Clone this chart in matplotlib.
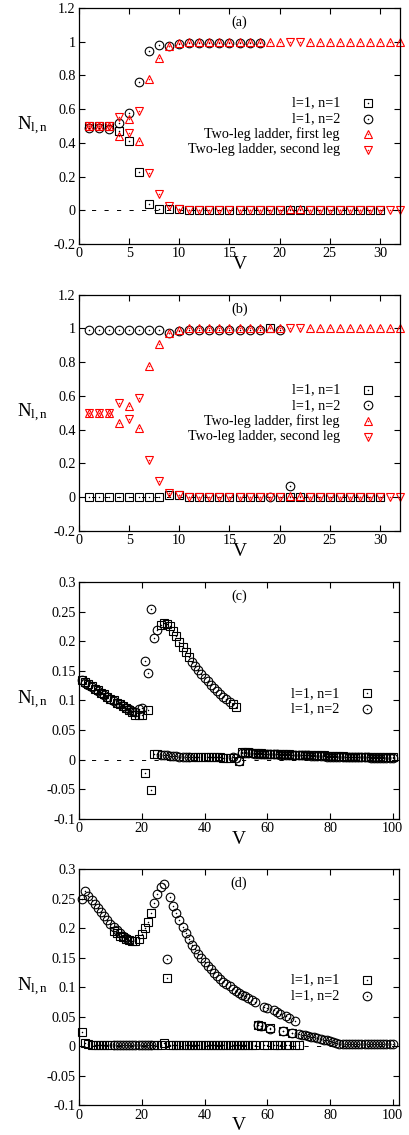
"""Four stacked panels: occupations N_{l,n} against V, gnuplot-like styling."""
import numpy as np
import matplotlib
matplotlib.use("Agg")
import matplotlib.pyplot as plt

plt.rcParams["font.family"] = ["Liberation Serif", "DejaVu Serif"]
plt.rcParams["mathtext.fontset"] = "custom"
plt.rcParams["mathtext.rm"] = "Liberation Serif"
plt.rcParams["mathtext.it"] = "Liberation Serif:italic"
plt.rcParams["lines.scale_dashes"] = False

# ---- panel (a) ----
a_n1 = [0.50, 0.50, 0.50, 0.47, 0.41, 0.23, 0.04, 0.005, 0.01, 0.01,
        0.0, 0.0, 0.0, 0.0, 0.0, 0.0, 0.0, 0.0, 0.0, 0.0,
        0.0, 0.0, 0.0, 0.0, 0.0, 0.0, 0.0, 0.0, 0.0, 0.0]
a_n2 = [0.49, 0.49, 0.48, 0.52, 0.575, 0.76, 0.945, 0.98, 0.975, 0.985,
        0.99, 0.99, 0.99, 0.99, 0.99, 0.99, 0.99, 0.99]
ladder_first = [0.50, 0.50, 0.50, 0.44, 0.54, 0.41, 0.78, 0.905, 0.975, 0.99,
                1.0, 1.0, 1.0, 1.0, 1.0, 1.0, 1.0, 1.0, 1.0, 1.0,
                0.005, 0.005, 1.0, 1.0, 1.0, 1.0, 1.0, 1.0, 1.0, 1.0,
                1.0, 1.0]
ladder_second = [0.50, 0.50, 0.50, 0.555, 0.46, 0.59, 0.22, 0.095, 0.025, 0.01,
                 0.0, 0.0, 0.0, 0.0, 0.0, 0.0, 0.0, 0.0, 0.0, 0.0,
                 1.0, 1.0, 0.0, 0.0, 0.0, 0.0, 0.0, 0.0, 0.0, 0.0,
                 0.0, 0.0]

# ---- panel (b) ----
b_n1 = [0.0, 0.0, 0.0, 0.0, 0.0, 0.0, 0.0, 0.0, 0.01, 0.01,
        0.0, 0.0, 0.0, 0.0, 0.0, 0.0, 0.0, 0.0, 1.0, 0.0,
        0.0, 0.0, 0.0, 0.0, 0.0, 0.0, 0.0, 0.0, 0.0, 0.0]
b_n2 = [0.99, 0.99, 0.99, 0.99, 0.99, 0.99, 0.99, 0.99, 0.975, 0.985,
        0.99, 0.99, 0.99, 0.99, 0.99, 0.99, 0.99, 0.99, 0.0, 0.99,
        0.065]

# ---- panel (c) ----
c_n1 = [0.135, 0.131, 0.127, 0.124, 0.120, 0.117, 0.113, 0.110, 0.106, 0.103,
        0.100, 0.096, 0.093, 0.090, 0.087, 0.084, 0.080, 0.075, 0.076, 0.076,
        -0.022, 0.083, -0.052, 0.010, 0.009, 0.228, 0.230, 0.229, 0.225, 0.218,
        0.208, 0.199, 0.190, 0.182, 0.174, 0.005, 0.005, 0.005, 0.004, 0.004,
        0.004, 0.004, 0.004, 0.004, 0.004, 0.003, 0.003, 0.003, 0.093, 0.089,
        -0.003, 0.012, 0.012, 0.012, 0.011, 0.011, 0.011, 0.011, 0.010, 0.010,
        0.010, 0.010, 0.009, 0.009, 0.009, 0.009, 0.009, 0.008, 0.008, 0.008,
        0.008, 0.008, 0.007, 0.007, 0.007, 0.007, 0.007, 0.007, 0.006, 0.006,
        0.006, 0.006, 0.006, 0.006, 0.005, 0.005, 0.005, 0.005, 0.005, 0.005,
        0.005, 0.004, 0.004, 0.004, 0.004, 0.004, 0.004, 0.004, 0.004, 0.004]
c_n2 = [0.134, 0.130, 0.126, 0.123, 0.119, 0.116, 0.112, 0.109, 0.105, 0.102,
        0.099, 0.096, 0.093, 0.090, 0.087, 0.085, 0.082, 0.080, 0.086, 0.087,
        0.166, 0.147, 0.254, 0.206, 0.219, 0.008, 0.007, 0.007, 0.006, 0.006,
        0.006, 0.005, 0.005, 0.005, 0.005, 0.165, 0.158, 0.151, 0.144, 0.138,
        0.132, 0.126, 0.121, 0.116, 0.111, 0.106, 0.102, 0.097, 0.004, 0.003,
        -0.002, 0.011, 0.011, 0.011, 0.011, 0.010, 0.010, 0.010, 0.010, 0.009,
        0.009, 0.009, 0.009, 0.008, 0.008, 0.008, 0.008, 0.008, 0.007, 0.007,
        0.007, 0.007, 0.007, 0.006, 0.006, 0.006, 0.006, 0.006, 0.005, 0.005,
        0.005, 0.005, 0.005, 0.005, 0.004, 0.004, 0.004, 0.004, 0.004, 0.004,
        0.004, 0.004, 0.003, 0.003, 0.003, 0.003, 0.003, 0.003, 0.003, 0.003]

# ---- panel (d) ----
d_n1 = [0.024, 0.006, 0.004, 0.002, 0.001, 0.001, 0.001, 0.001, 0.001, 0.001,
        0.195, 0.191, 0.187, 0.184, 0.181, 0.179, 0.178, 0.178, 0.181, 0.190,
        0.200, 0.210, 0.226, 0.001, 0.001, 0.001, 0.006, 0.115, 0.001, 0.001,
        0.001, 0.001, 0.001, 0.001, 0.001, 0.001, 0.001, 0.001, 0.001, 0.001,
        0.001, 0.001, 0.001, 0.001, 0.001, 0.001, 0.001, 0.001, 0.001, 0.001,
        0.001, 0.001, 0.001, 0.001, 0.001, 0.001, 0.036, 0.034, 0.001, 0.001,
        0.031, 0.001, 0.001, 0.001, 0.026, 0.001, 0.001, 0.022, 0.001, 0.001]
d_n2 = [0.250, 0.263, 0.255, 0.248, 0.241, 0.234, 0.227, 0.220, 0.213, 0.207,
        0.001, 0.001, 0.001, 0.001, 0.001, 0.001, 0.001, 0.001, 0.001, 0.001,
        0.001, 0.001, 0.001, 0.242, 0.257, 0.270, 0.275, 0.148, 0.253, 0.238,
        0.225, 0.213, 0.202, 0.191, 0.181, 0.172, 0.164, 0.156, 0.149, 0.142,
        0.136, 0.130, 0.124, 0.119, 0.114, 0.109, 0.105, 0.101, 0.097, 0.093,
        0.090, 0.087, 0.084, 0.081, 0.078, 0.075, 0.036, 0.034, 0.067, 0.064,
        0.029, 0.061, 0.058, 0.055, 0.025, 0.051, 0.048, 0.022, 0.043, 0.020,
        0.019, 0.018, 0.017, 0.016, 0.015, 0.014, 0.012, 0.011, 0.010, 0.008,
        0.007, 0.005, 0.004, 0.003, 0.003, 0.003, 0.003, 0.003, 0.003, 0.003,
        0.003, 0.003, 0.003, 0.003, 0.003, 0.003, 0.003, 0.003, 0.003, 0.003]
# second n=2 branch that sits on the upper curve at V = 11..16
d_n2_extra_v = [11, 12, 13, 14, 15, 16]
d_n2_extra = [0.201, 0.196, 0.191, 0.187, 0.183, 0.180]

lab_n1 = "l=1, n=1"
lab_n2 = "l=1, n=2"
lab_first = "Two-leg ladder, first leg"
lab_second = "Two-leg ladder, second leg"

small_ticks = [-0.2, 0, 0.2, 0.4, 0.6, 0.8, 1, 1.2]
small_ticklabels = ["-0.2", "0", "0.2", "0.4", "0.6", "0.8", "1", "1.2"]
large_ticks = [-0.1, -0.05, 0, 0.05, 0.1, 0.15, 0.2, 0.25, 0.3]
large_ticklabels = ["-0.1", "-0.05", "0", "0.05", "0.1", "0.15", "0.2", "0.25", "0.3"]

MS = 6.2
FS = 10.2


def points(ax, v, y, marker, color, transform=None):
    kw = dict(ls="none", clip_on=False)
    if transform is not None:
        kw["transform"] = transform
    ax.plot(v, y, marker=marker, ms=MS, mfc="none", mec=color, mew=0.8, **kw)
    ax.plot(v, y, marker="o", ms=1.1, mfc=color, mec=color, mew=0, **kw)


def key(ax, rows, y0, dy=0.066):
    for i, (text, marker, color) in enumerate(rows):
        y = y0 - i * dy
        ax.text(0.813, y, text, transform=ax.transAxes, ha="right", va="center", fontsize=FS)
        points(ax, [0.9], [y], marker, color, transform=ax.transAxes)


def frame(ax, xmax, xticks, yticks, yticklabels, tag):
    ax.axhline(0, color="black", lw=0.7, dashes=(3, 6), zorder=0.5)
    ax.set_xlim(0, xmax)
    ax.set_ylim(yticks[0], yticks[-1])
    ax.set_xticks(xticks)
    ax.set_xticklabels([str(t) for t in xticks])
    ax.set_yticks(yticks)
    ax.set_yticklabels(yticklabels)
    ax.tick_params(direction="in", top=True, right=True, length=4, width=0.8,
                   labelsize=FS, pad=2.5)
    for s in ax.spines.values():
        s.set_linewidth(0.9)
    ax.set_xlabel("V", fontsize=14, labelpad=-3)
    ax.text(-0.145, 0.5, r"N$_{\mathrm{l,n}}$", transform=ax.transAxes,
            ha="center", va="center", fontsize=13.5)
    ax.text(0.5, 0.94, tag, transform=ax.transAxes, ha="center", va="center", fontsize=FS)


fig = plt.figure(figsize=(4.09, 11.35), dpi=100)
ax_a = fig.add_axes([0.1932, 0.7850, 0.7848, 0.2079])
ax_b = fig.add_axes([0.1932, 0.5324, 0.7848, 0.2079])
ax_c = fig.add_axes([0.1932, 0.2787, 0.7824, 0.2085])
ax_d = fig.add_axes([0.1932, 0.0264, 0.7824, 0.2079])

ladder_rows = [(lab_n1, "s", "black"), (lab_n2, "o", "black"),
               (lab_first, "^", "red"), (lab_second, "v", "red")]

for ax, n1, n2, tag in [(ax_a, a_n1, a_n2, "(a)"), (ax_b, b_n1, b_n2, "(b)")]:
    frame(ax, 32, [0, 5, 10, 15, 20, 25, 30], small_ticks, small_ticklabels, tag)
    points(ax, np.arange(1, len(n1) + 1), n1, "s", "black")
    points(ax, np.arange(1, len(n2) + 1), n2, "o", "black")
    points(ax, np.arange(1, len(ladder_first) + 1), ladder_first, "^", "red")
    points(ax, np.arange(1, len(ladder_second) + 1), ladder_second, "v", "red")
    key(ax, ladder_rows, 0.597)

chain_rows = [(lab_n1, "s", "black"), (lab_n2, "o", "black")]

frame(ax_c, 102, [0, 20, 40, 60, 80, 100], large_ticks, large_ticklabels, "(c)")
points(ax_c, np.arange(1, len(c_n1) + 1), c_n1, "s", "black")
points(ax_c, np.arange(1, len(c_n2) + 1), c_n2, "o", "black")
key(ax_c, chain_rows, 0.530)

frame(ax_d, 102, [0, 20, 40, 60, 80, 100], large_ticks, large_ticklabels, "(d)")
points(ax_d, np.arange(1, len(d_n1) + 1), d_n1, "s", "black")
points(ax_d, np.arange(1, len(d_n2) + 1), d_n2, "o", "black")
points(ax_d, d_n2_extra_v, d_n2_extra, "o", "black")
key(ax_d, chain_rows, 0.530)

fig.savefig("out.png", dpi=100)
